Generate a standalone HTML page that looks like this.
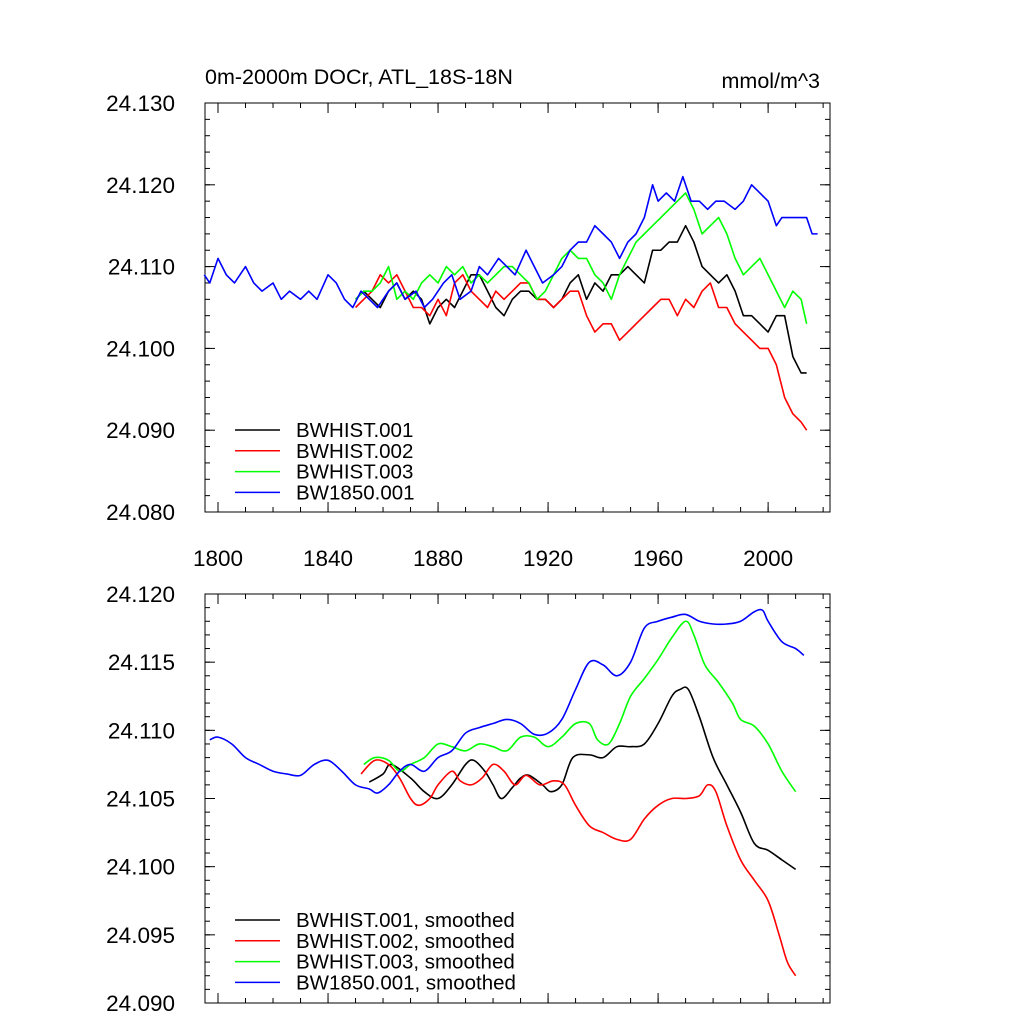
<!DOCTYPE html>
<html><head><meta charset="utf-8"><style>
body{margin:0;background:#fff}
svg text{font-family:"Liberation Sans",sans-serif;fill:#000}
</style></head><body>
<svg id="c" width="1024" height="1024" xmlns="http://www.w3.org/2000/svg">
<text x="205" y="84" font-size="21.5">0m-2000m DOCr, ATL_18S-18N</text>
<text x="820" y="88" font-size="21.5" text-anchor="end">mmol/m^3</text>
</svg>
<script>
const blueYears=[1795,1797,1800,1803,1806,1810,1813,1816,1820,1823,1826,1830,1833,1836,1840,1843,1846,1849,1852,1855,1858,1862,1865,1868,1872,1875,1878,1882,1885,1888,1892,1895,1898,1902,1905,1908,1912,1915,1918,1922,1925,1928,1931,1934,1937,1940,1943,1946,1949,1952,1955,1958,1960,1963,1966,1969,1972,1975,1978,1981,1984,1988,1991,1994,1997,2000,2003,2005,2008,2011,2014,2016,2018];
const blueVals=[24.109,24.108,24.111,24.109,24.108,24.110,24.108,24.107,24.108,24.106,24.107,24.106,24.107,24.106,24.109,24.108,24.106,24.105,24.107,24.106,24.105,24.107,24.108,24.106,24.107,24.105,24.106,24.108,24.109,24.106,24.107,24.110,24.109,24.111,24.110,24.109,24.112,24.110,24.108,24.109,24.110,24.112,24.113,24.113,24.115,24.114,24.113,24.111,24.113,24.114,24.116,24.120,24.118,24.119,24.118,24.121,24.118,24.118,24.117,24.118,24.118,24.117,24.118,24.120,24.119,24.118,24.115,24.116,24.116,24.116,24.116,24.114,24.114];
const histYears=[1850,1853,1856,1859,1862,1865,1868,1871,1874,1877,1880,1883,1886,1889,1892,1895,1898,1901,1904,1907,1910,1913,1916,1919,1922,1925,1928,1931,1934,1937,1940,1943,1946,1949,1952,1955,1958,1961,1964,1967,1970,1973,1976,1979,1982,1985,1988,1991,1994,1997,2000,2003,2006,2009,2012,2014];
const blackVals=[24.106,24.107,24.106,24.105,24.107,24.108,24.106,24.107,24.106,24.103,24.105,24.106,24.105,24.107,24.109,24.109,24.107,24.105,24.104,24.106,24.107,24.107,24.106,24.106,24.105,24.106,24.108,24.109,24.106,24.108,24.107,24.109,24.109,24.110,24.109,24.108,24.112,24.112,24.113,24.113,24.115,24.113,24.110,24.109,24.108,24.109,24.107,24.104,24.104,24.103,24.102,24.104,24.104,24.099,24.097,24.097];
const redVals=[24.105,24.106,24.107,24.109,24.108,24.109,24.107,24.105,24.105,24.104,24.106,24.104,24.108,24.109,24.107,24.106,24.105,24.107,24.106,24.107,24.108,24.108,24.106,24.106,24.105,24.106,24.107,24.107,24.104,24.102,24.103,24.103,24.101,24.102,24.103,24.104,24.105,24.106,24.106,24.104,24.106,24.105,24.107,24.108,24.105,24.105,24.103,24.102,24.101,24.100,24.100,24.098,24.094,24.092,24.091,24.090];
const greenVals=[24.106,24.107,24.107,24.108,24.110,24.106,24.107,24.106,24.108,24.109,24.108,24.110,24.109,24.110,24.108,24.109,24.108,24.109,24.110,24.110,24.109,24.108,24.106,24.107,24.109,24.111,24.112,24.111,24.111,24.109,24.108,24.106,24.109,24.111,24.113,24.114,24.115,24.116,24.117,24.118,24.119,24.117,24.114,24.115,24.116,24.114,24.111,24.109,24.110,24.111,24.109,24.107,24.105,24.107,24.106,24.103];
const sBlueYears=[1797,1800,1805,1810,1815,1820,1825,1830,1835,1840,1845,1850,1855,1858,1862,1866,1870,1875,1880,1885,1890,1895,1900,1905,1910,1915,1920,1925,1930,1935,1940,1945,1950,1955,1960,1965,1970,1975,1980,1985,1990,1995,1998,2000,2005,2010,2013];
const sBlueVals=[24.1093,24.1095,24.109,24.108,24.1075,24.107,24.1068,24.1067,24.1075,24.1078,24.107,24.106,24.1057,24.1054,24.106,24.107,24.1075,24.107,24.108,24.1085,24.1098,24.1102,24.1105,24.1108,24.1105,24.1097,24.1098,24.1108,24.113,24.115,24.1148,24.114,24.115,24.1175,24.118,24.1183,24.1185,24.118,24.1178,24.1178,24.118,24.1187,24.1188,24.118,24.1165,24.116,24.1155];
const sBlackYears=[1855,1860,1863,1870,1875,1880,1885,1890,1893,1897,1900,1903,1907,1910,1913,1918,1921,1925,1929,1935,1940,1945,1950,1955,1960,1965,1968,1971,1975,1980,1985,1990,1995,2000,2005,2010];
const sBlackVals=[24.1062,24.1068,24.1075,24.1065,24.1055,24.105,24.106,24.1075,24.1078,24.107,24.106,24.105,24.1058,24.1065,24.1067,24.106,24.1055,24.106,24.108,24.1082,24.108,24.1088,24.1088,24.109,24.1105,24.1125,24.113,24.113,24.111,24.108,24.106,24.104,24.1017,24.1012,24.1005,24.0998];
const sRedYears=[1852,1857,1862,1866,1870,1873,1877,1880,1885,1888,1892,1896,1900,1904,1908,1912,1917,1922,1926,1930,1935,1940,1945,1950,1955,1960,1965,1970,1975,1978,1981,1985,1990,1995,2000,2004,2007,2010];
const sRedVals=[24.1068,24.1078,24.1075,24.1065,24.105,24.1045,24.105,24.106,24.107,24.1063,24.106,24.1065,24.1075,24.107,24.106,24.1067,24.106,24.1063,24.106,24.1045,24.103,24.1025,24.102,24.102,24.1035,24.1045,24.105,24.105,24.1052,24.106,24.1055,24.103,24.1005,24.099,24.0975,24.095,24.093,24.092];
const sGreenYears=[1853,1857,1862,1866,1870,1875,1880,1885,1890,1895,1900,1905,1910,1915,1920,1925,1930,1935,1938,1942,1946,1950,1955,1960,1965,1970,1973,1977,1982,1987,1990,1995,2000,2005,2010];
const sGreenVals=[24.1075,24.108,24.1078,24.107,24.1075,24.108,24.109,24.1088,24.1085,24.109,24.1088,24.1085,24.1095,24.1095,24.1088,24.1095,24.1105,24.1105,24.1093,24.109,24.1105,24.1125,24.1138,24.1152,24.1168,24.118,24.117,24.1148,24.1135,24.112,24.1108,24.1103,24.109,24.107,24.1055];
const xTicks=[1800,1840,1880,1920,1960,2000];
const topYTicks=[24.080,24.090,24.100,24.110,24.120,24.130];
const botYTicks=[24.090,24.095,24.100,24.105,24.110,24.115,24.120];
const topLegend=["BWHIST.001","BWHIST.002","BWHIST.003","BW1850.001"];
const botLegend=["BWHIST.001, smoothed","BWHIST.002, smoothed","BWHIST.003, smoothed","BW1850.001, smoothed"];

const NS="http://www.w3.org/2000/svg",svg=document.getElementById('c');
const X0=205,X1=830,XMIN=1795.27,XMAX=2022.5;
const xs=v=>X0+(v-XMIN)/(XMAX-XMIN)*(X1-X0);
function mk(t,a,p){const e=document.createElementNS(NS,t);for(const k in a)e.setAttribute(k,a[k]);(p||svg).appendChild(e);return e;}
function smoothPath(pts){let d='M'+pts[0][0]+','+pts[0][1];
 for(let i=0;i<pts.length-1;i++){const p0=pts[i-1]||pts[i],p1=pts[i],p2=pts[i+1],p3=pts[i+2]||p2;
  const c1=[p1[0]+(p2[0]-p0[0])/6,p1[1]+(p2[1]-p0[1])/6],c2=[p2[0]-(p3[0]-p1[0])/6,p2[1]-(p3[1]-p1[1])/6];
  d+=' C'+c1[0]+','+c1[1]+' '+c2[0]+','+c2[1]+' '+p2[0]+','+p2[1];}
 return d;}
function panel(name,top,bot,ymin,ymax,yT,minorStep,showX,series,legend,legY,smooth){
 const ys=v=>bot-(v-ymin)/(ymax-ymin)*(bot-top);
 const g=mk('g',{});
 
 
 const fr=mk('rect',{x:X0,y:top,width:X1-X0,height:bot-top,fill:'none',stroke:'#000','stroke-width':1},g);
 
 
 for(let v=ymin;v<=ymax+1e-9;v+=minorStep){const y=ys(v);
  mk('line',{x1:X0,x2:X0+5,y1:y,y2:y,stroke:'#000'},g);mk('line',{x1:X1,x2:X1-5,y1:y,y2:y,stroke:'#000'},g);}
 yT.forEach(v=>{const y=ys(v);
  mk('line',{x1:X0,x2:X0+10,y1:y,y2:y,stroke:'#000'},g);mk('line',{x1:X1,x2:X1-10,y1:y,y2:y,stroke:'#000'},g);
  const t=mk('text',{x:X0-30,y:y+8,'font-size':22.5,'text-anchor':'end'},g);t.textContent=v.toFixed(3);
  
  });
 for(let yr=1800;yr<=2020;yr+=10){const x=xs(yr);
  mk('line',{x1:x,x2:x,y1:bot,y2:bot-5,stroke:'#000'},g);mk('line',{x1:x,x2:x,y1:top,y2:top+5,stroke:'#000'},g);}
 xTicks.forEach(yr=>{const x=xs(yr);
  mk('line',{x1:x,x2:x,y1:bot,y2:bot-10,stroke:'#000'},g);mk('line',{x1:x,x2:x,y1:top,y2:top+10,stroke:'#000'},g);
  if(showX){const t=mk('text',{x:x,y:bot+54,'font-size':22.5,'text-anchor':'middle'},g);t.textContent=yr;
   
   }});
 series.forEach(s=>{const pts=s.x.map((yr,i)=>[xs(yr),ys(s.y[i])]);
  const p=smooth?mk('path',{d:smoothPath(pts),fill:'none',stroke:s.c,'stroke-width':1.6},g)
   :mk('polyline',{points:pts.map(q=>q.join(',')).join(' '),fill:'none',stroke:s.c,'stroke-width':1.6,'stroke-linejoin':'round'},g);
  
  });
 legend.forEach((l,i)=>{const y=legY+i*20.8;
  const ln=mk('line',{x1:235,x2:280,y1:y,y2:y,stroke:series[i].c,'stroke-width':1.5},g);
  
  
  const t=mk('text',{x:296,y:y+7,'font-size':20.5},g);t.textContent=l;
  
  });
}
panel('top-panel',103,512,24.080,24.130,topYTicks,0.002,true,[
 {x:histYears,y:blackVals,c:'#000',n:'series-bwhist-001'},
 {x:histYears,y:redVals,c:'#f00',n:'series-bwhist-002'},
 {x:histYears,y:greenVals,c:'#0f0',n:'series-bwhist-003'},
 {x:blueYears,y:blueVals,c:'#00f',n:'series-bw1850-001'}],topLegend,430,false);
panel('bottom-panel',594,1003,24.090,24.120,botYTicks,0.001,false,[
 {x:sBlackYears,y:sBlackVals,c:'#000',n:'smoothed-bwhist-001'},
 {x:sRedYears,y:sRedVals,c:'#f00',n:'smoothed-bwhist-002'},
 {x:sGreenYears,y:sGreenVals,c:'#0f0',n:'smoothed-bwhist-003'},
 {x:sBlueYears,y:sBlueVals,c:'#00f',n:'smoothed-bw1850-001'}],botLegend,920,true);
</script>
</body></html>
